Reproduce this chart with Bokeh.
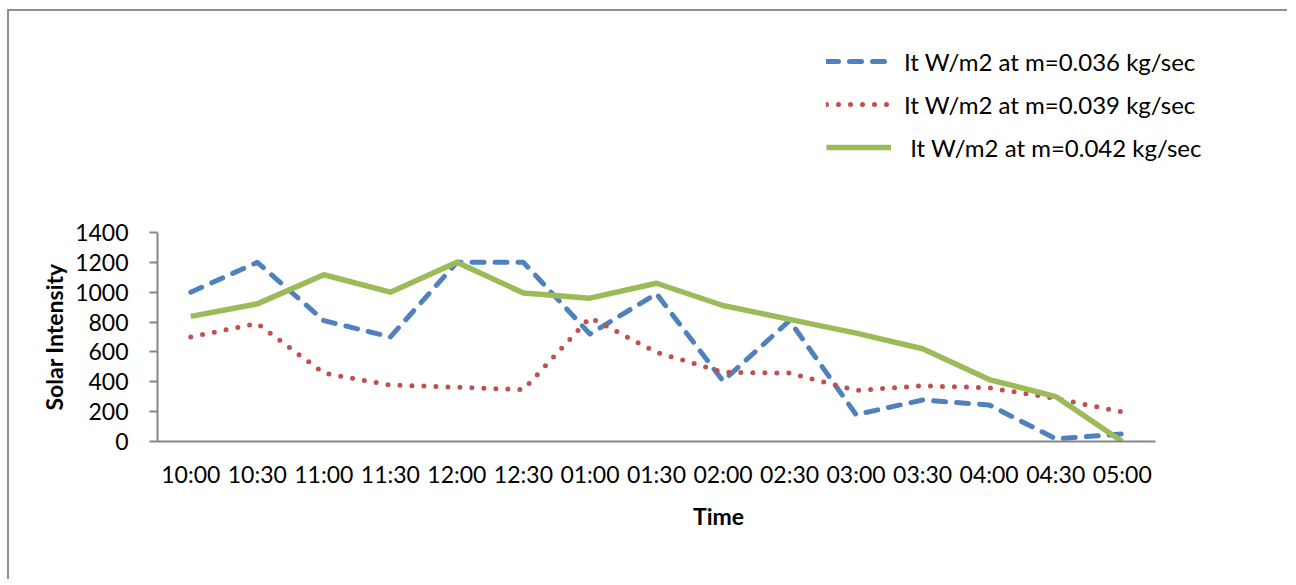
from bokeh.plotting import figure
from bokeh.models import Range1d, FixedTicker, Legend, LegendItem, Title
from bokeh.embed import file_html
from bokeh.resources import INLINE

# ---- data ----
times = ["10:00", "10:30", "11:00", "11:30", "12:00", "12:30", "01:00", "01:30",
         "02:00", "02:30", "03:00", "03:30", "04:00", "04:30", "05:00"]
it_036 = [1000, 1200, 810, 700, 1200, 1200, 720, 990, 405, 810, 180, 278, 245, 18, 50]
it_039 = [700, 790, 458, 378, 364, 347, 830, 598, 464, 458, 342, 373, 360, 288, 198]
it_042 = [838, 922, 1117, 1000, 1200, 995, 960, 1060, 911, 818, 726, 621, 415, 301, 0]
y_ticks = [0, 200, 400, 600, 800, 1000, 1200, 1400]
labels = ["It W/m2 at m=0.036 kg/sec", "It W/m2 at m=0.039 kg/sec", " It W/m2 at m=0.042 kg/sec"]

FONT = "Lato"
xs = list(range(len(times)))
Y_MAX = 1400

# plot frame is enlarged upward / rightward so the legend (drawn above the
# axes, as in the original) is inside it; the axes are bounded to the data area
p = figure(width=1280, height=570, output_backend="svg", toolbar_location=None,
           x_range=Range1d(-0.5, 16.364), y_range=Range1d(0, 2746.4),
           min_border_left=148, min_border_right=10, min_border_top=20,
           min_border_bottom=140)
# chart-area border: only its top and left edges are in view
p.styles = {"box-shadow": "-2px -2px 0px 0px #909090",
            "margin-left": "9px", "margin-top": "11px"}
p.outline_line_color = None
p.grid.visible = False
p.background_fill_color = "white"
p.border_fill_color = "white"

blue = "#4F81BD"
red = "#C0504D"
green = "#9BBB59"

r1 = p.line(xs, it_036, line_color=blue, line_width=5, line_dash="12 11",
            line_cap="round", line_join="round")
r2 = p.line(xs, it_039, line_color=red, line_width=5, line_dash="0 12",
            line_cap="round", line_join="round")
r3 = p.line(xs, it_042, line_color=green, line_width=5.5, line_join="round")

# axes
for ax in (p.xaxis[0], p.yaxis[0]):
    ax.axis_line_color = "#868686"
    ax.axis_line_width = 2
    ax.major_tick_line_color = "#868686"
    ax.major_tick_line_width = 2
    ax.minor_tick_line_color = None
    ax.major_label_text_font = FONT
    ax.major_label_text_font_size = "23px"
    ax.major_label_text_color = "black"
    ax.axis_label_text_font = FONT
    ax.axis_label_text_font_size = "23px"
    ax.axis_label_text_font_style = "bold"
    ax.axis_label_text_color = "black"

p.xaxis.bounds = (-0.5, len(times) - 0.5)
p.xaxis.ticker = FixedTicker(ticks=xs)
p.xaxis.major_label_overrides = {i: t for i, t in zip(xs, times)}
p.xaxis.major_tick_out = 0
p.xaxis.major_tick_in = 0
p.xaxis.major_label_standoff = 18
p.xaxis.axis_label = "Time"
p.xaxis.axis_label_standoff = 11

p.yaxis.bounds = (0, Y_MAX)
p.yaxis.ticker = FixedTicker(ticks=y_ticks)
p.yaxis.major_tick_out = 8
p.yaxis.major_tick_in = 0
p.yaxis.major_label_standoff = 21

# y-axis title, centred on the bounded data area rather than the enlarged frame
p.add_layout(Title(text="Solar Intensity", align="left", offset=31,
                   text_font=FONT, text_font_size="23px", text_font_style="bold",
                   text_color="black", standoff=9), "left")

legend = Legend(items=[LegendItem(label=labels[0], renderers=[r1]),
                       LegendItem(label=labels[1], renderers=[r2]),
                       LegendItem(label=labels[2], renderers=[r3])],
                location=(669, 279), orientation="vertical",
                glyph_width=65, glyph_height=30, label_standoff=13, spacing=13,
                padding=0, margin=0, border_line_alpha=0, background_fill_alpha=0,
                label_text_font=FONT, label_text_font_size="24px",
                label_text_color="black")
p.add_layout(legend)

open("out.html", "w").write(file_html(p, INLINE))
